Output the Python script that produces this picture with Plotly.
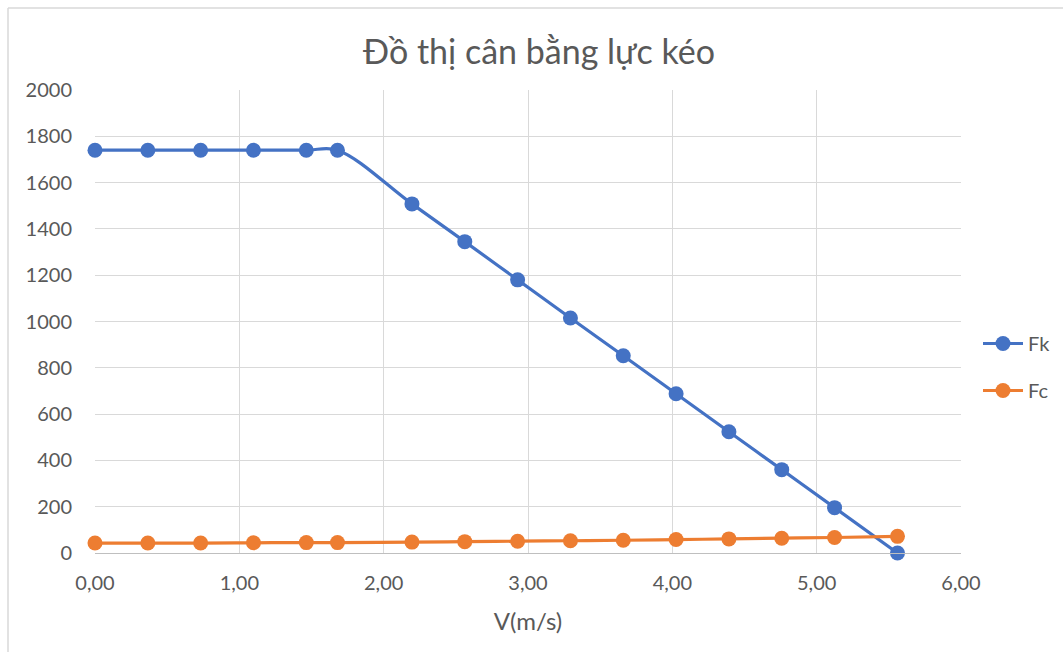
import plotly.graph_objects as go

v = [0.00, 0.366, 0.732, 1.098, 1.464, 1.68, 2.196, 2.562, 2.928, 3.294, 3.66, 4.026, 4.392, 4.758, 5.124, 5.56]
fk = [1740, 1740, 1740, 1740, 1740, 1740, 1508, 1345, 1180, 1015, 852, 688, 524, 360, 196, 0]
fc = [43, 43, 43, 44, 45, 45, 47, 49, 51, 53, 55, 58, 61, 64, 67, 72]

x_ticks = [0, 1, 2, 3, 4, 5, 6]
x_tick_labels = ["0,00", "1,00", "2,00", "3,00", "4,00", "5,00", "6,00"]
y_ticks = list(range(0, 2001, 200))

FONT = "Lato"
GREY = "#595959"

fig = go.Figure()
fig.add_trace(go.Scatter(
    x=v, y=fk, name="Fk", mode="lines+markers", legendgroup="fk", cliponaxis=False,
    line=dict(color="#4472C4", width=3.2, shape="spline", smoothing=1.0),
    marker=dict(color="#4472C4", size=15),
))
fig.add_trace(go.Scatter(
    x=v, y=fc, name="Fc", mode="lines+markers", legendgroup="fc", cliponaxis=False,
    line=dict(color="#ED7D31", width=3.2, shape="spline", smoothing=1.0),
    marker=dict(color="#ED7D31", size=15),
))

fig.update_layout(
    width=1063, height=652,
    margin=dict(l=95, r=102, t=90, b=99, autoexpand=False),
    paper_bgcolor="white", plot_bgcolor="white",
    font=dict(family=FONT, color=GREY, size=20),
    title=dict(text="Đồ thị cân bằng lực kéo", xref="container", x=539 / 1063, xanchor="center",
               yref="container", y=1 - 52 / 652, yanchor="middle",
               font=dict(family=FONT, size=34, color=GREY)),
    showlegend=True,
    legend=dict(xref="container", x=978 / 1063, xanchor="left",
                yref="container", y=1 - 367 / 652, yanchor="middle",
                font=dict(family=FONT, size=20, color=GREY),
                bgcolor="rgba(0,0,0,0)", tracegroupgap=18, itemwidth=40),
    xaxis=dict(range=[0, 6], tickvals=x_ticks, ticktext=x_tick_labels,
               showgrid=True, gridcolor="#d9d9d9", gridwidth=1.3,
               zeroline=False, showline=True, linecolor="#bfbfbf", linewidth=1.3,
               ticks="", ticklabelstandoff=12, automargin=False,
               title=dict(text="V(m/s)", font=dict(family=FONT, size=24, color=GREY), standoff=20)),
    yaxis=dict(range=[0, 2000], tickvals=y_ticks, automargin=False,
               showgrid=True, gridcolor="#d9d9d9", gridwidth=1.3,
               zeroline=False, showline=False, ticks="", ticklabelstandoff=22),
    shapes=[
        dict(type="line", xref="paper", yref="paper",
             x0=(8 - 95) / 866, x1=(8 - 95) / 866, y0=(553 - 652) / 463, y1=(553 - 8) / 463,
             line=dict(color="#d9d9d9", width=1.5)),
        dict(type="line", xref="paper", yref="paper",
             x0=(8 - 95) / 866, x1=(1063 - 95) / 866, y0=(553 - 8) / 463, y1=(553 - 8) / 463,
             line=dict(color="#d9d9d9", width=1.5)),
    ],
)

fig.write_html("out.html")
